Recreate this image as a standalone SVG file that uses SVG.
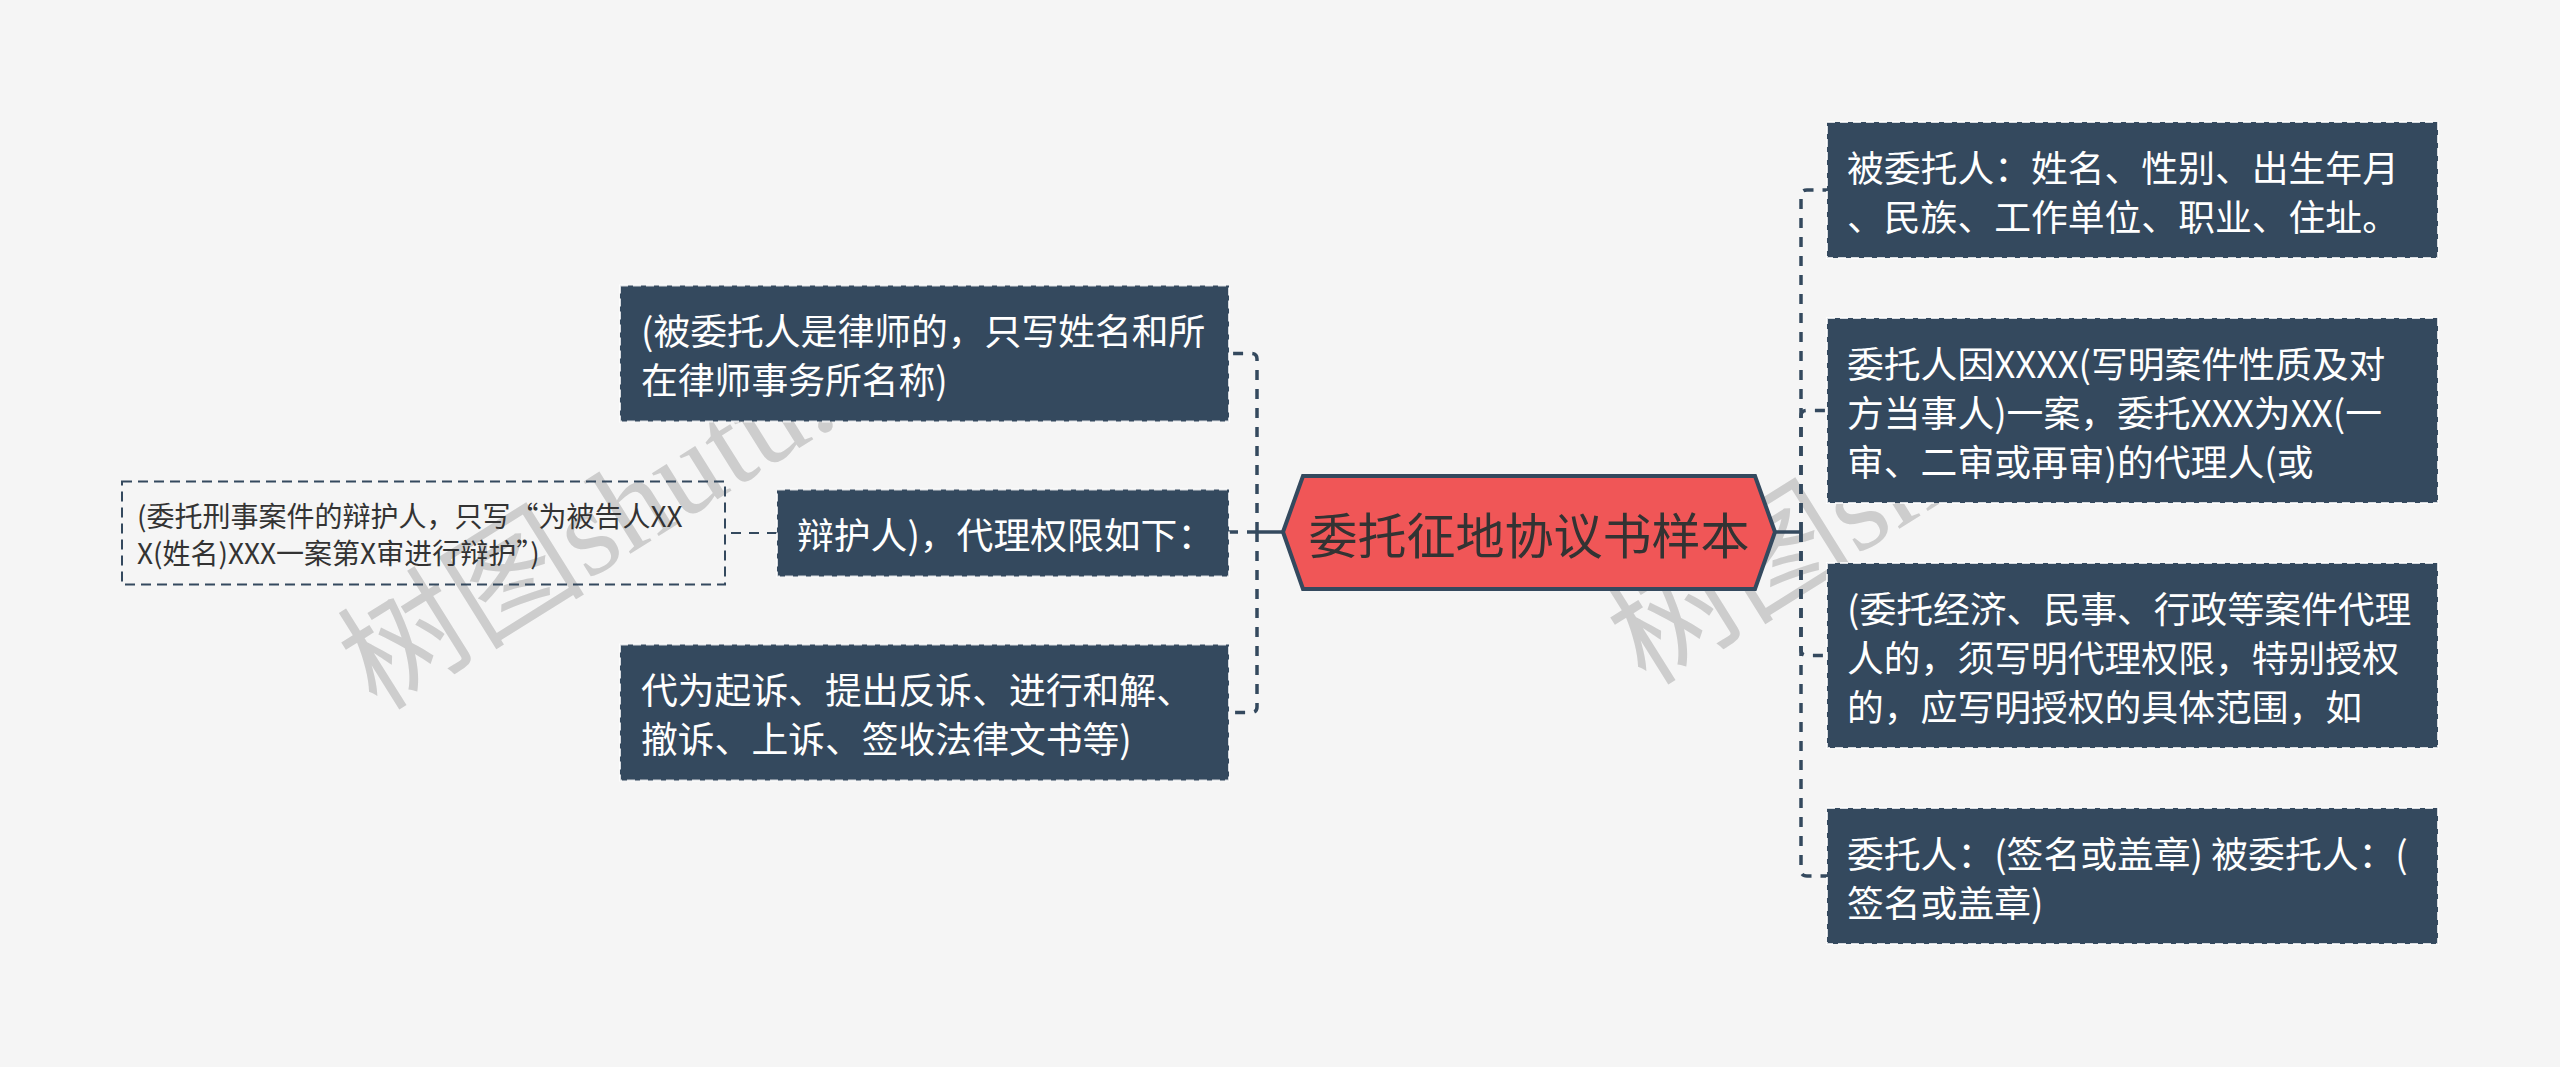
<svg xmlns="http://www.w3.org/2000/svg" width="2560" height="1067" viewBox="0 0 2560 1067">
<style>
.bg{fill:#f5f5f5}
.wm{font-family:"Liberation Serif","Noto Sans CJK SC",serif;font-size:124px;fill:#cdcdcd}
.box{fill:#34495e;stroke:#ffffff;stroke-opacity:0.8;stroke-width:2;stroke-dasharray:8 5}
.t{font-family:"Noto Sans CJK SC","Noto Sans",sans-serif;font-size:36.8px;fill:#ffffff;dominant-baseline:central}
.sub{fill:none;stroke:#34495e;stroke-width:2;stroke-dasharray:10 6}
.ts{font-family:"Noto Sans CJK SC","Noto Sans",sans-serif;font-size:28px;fill:#333333;dominant-baseline:central}
.ln{fill:none;stroke:#34495e;stroke-width:3.5;stroke-dasharray:10 9}
.solid{fill:none;stroke:#34495e;stroke-width:3.5}
.thin{fill:none;stroke:#34495e;stroke-width:2;stroke-dasharray:10 8}
</style>
<rect class="bg" x="0" y="0" width="2560" height="1067"/>
<g id="watermarks">
<text class="wm" x="377" y="712" transform="rotate(-32 377 712)">树图shutu.cn</text>
<text class="wm" x="1646" y="687" transform="rotate(-32 1646 687)">树图shutu.</text>
</g>
<g id="connectors">
<path class="solid" d="M1283,532 H1257"/>
<path class="ln" d="M1257,532 V359 Q1257,353.5 1251,353.5 H1229"/>
<path class="ln" d="M1257,532 H1229"/>
<path class="ln" d="M1257,532 V707 Q1257,712.5 1251,712.5 H1229"/>
<path class="thin" d="M777,533 H725"/>
<path class="solid" d="M1775,532 H1801"/>
<path class="ln" d="M1801,532 V196 Q1801,190 1807,190 H1827"/>
<path class="ln" d="M1801,532 V416 Q1801,410.5 1807,410.5 H1827"/>
<path class="ln" d="M1801,532 V650 Q1801,655.5 1807,655.5 H1827"/>
<path class="ln" d="M1801,532 V870 Q1801,876 1807,876 H1827"/>
</g>
<g id="root">
<polygon points="1283,532 1303,476 1755,476 1775,532 1755,589 1303,589" fill="#f05657" stroke="#34495e" stroke-width="4" stroke-linejoin="miter"/>
<text x="1529" y="532" font-family="Noto Sans CJK SC,Noto Sans,sans-serif" font-size="49" fill="#333333" text-anchor="middle" dominant-baseline="central">委托征地协议书样本</text>
</g>
<g id="L1">
<rect class="box" x="620" y="285.5" width="609" height="136"/>
<text class="t" x="641" y="329">(被委托人是律师的，只写姓名和所</text>
<text class="t" x="641" y="378">在律师事务所名称)</text>
</g>
<g id="L2">
<rect class="box" x="777" y="489.5" width="452" height="87"/>
<text class="t" x="797" y="533">辩护人)，代理权限如下：</text>
</g>
<g id="L2a">
<rect class="sub" x="122" y="481.5" width="603" height="103"/>
<text class="ts" x="137" y="515">(委托刑事案件的辩护人，只写“为被告人XX</text>
<text class="ts" x="137" y="552">X(姓名)XXX一案第X审进行辩护”)</text>
</g>
<g id="L3">
<rect class="box" x="620" y="644.5" width="609" height="136"/>
<text class="t" x="641" y="688">代为起诉、提出反诉、进行和解、</text>
<text class="t" x="641" y="737">撤诉、上诉、签收法律文书等)</text>
</g>
<g id="R1">
<rect class="box" x="1827" y="122" width="611" height="136"/>
<text class="t" x="1847" y="165.5">被委托人：姓名、性别、出生年月</text>
<text class="t" x="1847" y="214.5">、民族、工作单位、职业、住址。</text>
</g>
<g id="R2">
<rect class="box" x="1827" y="318" width="611" height="185"/>
<text class="t" x="1847" y="361.5">委托人因XXXX(写明案件性质及对</text>
<text class="t" x="1847" y="410.5">方当事人)一案，委托XXX为XX(一</text>
<text class="t" x="1847" y="459.5">审、二审或再审)的代理人(或</text>
</g>
<g id="R3">
<rect class="box" x="1827" y="563" width="611" height="185"/>
<text class="t" x="1847" y="606.5">(委托经济、民事、行政等案件代理</text>
<text class="t" x="1847" y="655.5">人的，须写明代理权限，特别授权</text>
<text class="t" x="1847" y="704.5">的，应写明授权的具体范围，如</text>
</g>
<g id="R4">
<rect class="box" x="1827" y="808" width="611" height="136"/>
<text class="t" x="1847" y="851.5">委托人：(签名或盖章) 被委托人：(</text>
<text class="t" x="1847" y="900.5">签名或盖章)</text>
</g>
</svg>
